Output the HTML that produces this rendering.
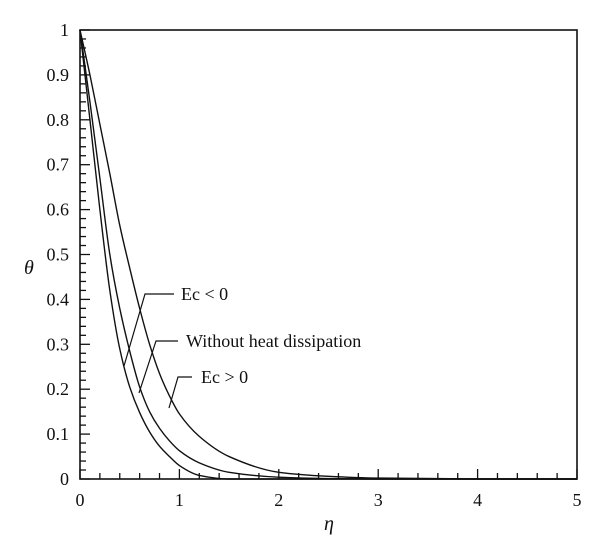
<!DOCTYPE html>
<html><head><meta charset="utf-8"><style>
body{margin:0;background:#fff;}
svg{display:block;font-family:"Liberation Serif",serif;}
</style></head><body>
<svg id="chart" width="600" height="552" viewBox="0 0 600 552" xmlns="http://www.w3.org/2000/svg">
<rect x="0" y="0" width="600" height="552" fill="#fff"/>
<g id="ticks"></g>
<g id="curves"></g>
<rect x="80" y="30" width="497" height="449" fill="none" stroke="#111" stroke-width="1.6"/>
<g stroke="#111" stroke-width="1.2" fill="none">
<polyline points="124,366 145,294 174,294"/>
<polyline points="139,393 156,341 178,341"/>
<polyline points="169,408 178,377 192,377"/>
</g>
<g font-size="18" fill="#111">
<text x="181" y="300">Ec &lt; 0</text>
<text x="186" y="347">Without heat dissipation</text>
<text x="201" y="383">Ec &gt; 0</text>
<text x="24" y="274" font-style="italic" font-size="20">θ</text>
<text x="324" y="530" font-style="italic" font-size="20">η</text>
</g>
<g id="labels" font-size="18" fill="#111"></g>
</svg>
<script>
const etaValues = [0,0.1,0.2,0.3,0.4,0.5,0.6,0.7,0.8,0.9,1.0,1.2,1.5,2,2.5,3,4,5];
const ecNegative = [1,0.80,0.60,0.42,0.29,0.205,0.148,0.105,0.073,0.05,0.03,0.008,0,0,0,0,0,0];
const withoutDissipation = [1,0.84,0.67,0.50,0.38,0.285,0.205,0.15,0.113,0.085,0.063,0.036,0.015,0.004,0.001,0,0,0];
const ecPositive = [1,0.90,0.79,0.68,0.565,0.47,0.38,0.30,0.235,0.185,0.145,0.095,0.05,0.015,0.006,0.002,0,0];
const xTickLabels = ["0","1","2","3","4","5"];
const yTickLabels = ["0","0.1","0.2","0.3","0.4","0.5","0.6","0.7","0.8","0.9","1"];

const NS="http://www.w3.org/2000/svg";
const X0=80,X1=577,Y0=479,Y1=30;
function xs(v){return X0+(X1-X0)*v/5;}
function ys(v){return Y0-(Y0-Y1)*v;}
function mk(tag,attrs){const e=document.createElementNS(NS,tag);for(const k in attrs)e.setAttribute(k,attrs[k]);return e;}

const tg=document.getElementById('ticks');
for(let i=0;i<=25;i++){
  const v=i*0.2,major=i%5===0,x=xs(v);
  const t=mk('line',{x1:x,x2:x,y1:Y0,y2:Y0-(major?10:6),stroke:'#111','stroke-width':1.3});
  
  
  tg.appendChild(t);
}
for(let i=0;i<=50;i++){
  const v=i*0.02,major=i%5===0,y=ys(v);
  const t=mk('line',{x1:X0,x2:X0+(major?10:6),y1:y,y2:y,stroke:'#111','stroke-width':1.3});
  
  
  tg.appendChild(t);
}
const lg=document.getElementById('labels');
xTickLabels.forEach((s,i)=>{
  const t=mk('text',{x:xs(i),y:506,'text-anchor':'middle'});
  t.textContent=s;
  
  
  lg.appendChild(t);
});
yTickLabels.forEach((s,i)=>{
  const t=mk('text',{x:69,y:ys(i/10)+6,'text-anchor':'end'});
  t.textContent=s;
  
  
  lg.appendChild(t);
});
// monotone cubic (Fritsch-Carlson) interpolation
function pathFor(vals){
  const n=etaValues.length, x=etaValues, y=vals;
  const d=[],m=new Array(n);
  for(let i=0;i<n-1;i++)d.push((y[i+1]-y[i])/(x[i+1]-x[i]));
  m[0]=d[0];m[n-1]=d[n-2];
  for(let i=1;i<n-1;i++){
    if(d[i-1]*d[i]<=0)m[i]=0;
    else{const h0=x[i]-x[i-1],h1=x[i+1]-x[i];const w1=2*h1+h0,w2=h1+2*h0;m[i]=(w1+w2)/(w1/d[i-1]+w2/d[i]);}
  }
  let s='M'+xs(x[0])+','+ys(y[0]);
  for(let i=0;i<n-1;i++){
    const h=x[i+1]-x[i];
    const c1x=x[i]+h/3,c1y=y[i]+m[i]*h/3;
    const c2x=x[i+1]-h/3,c2y=y[i+1]-m[i+1]*h/3;
    s+=' C'+xs(c1x)+','+ys(c1y)+' '+xs(c2x)+','+ys(c2y)+' '+xs(x[i+1])+','+ys(y[i+1]);
  }
  return s;
}
const cg=document.getElementById('curves');
[['curve-ec-negative',ecNegative],['curve-without-dissipation',withoutDissipation],['curve-ec-positive',ecPositive]].forEach(([n,v])=>{
  const p=mk('path',{d:pathFor(v),fill:'none',stroke:'#111','stroke-width':1.4});
  
  
  cg.appendChild(p);
});
</script>
</body></html>
